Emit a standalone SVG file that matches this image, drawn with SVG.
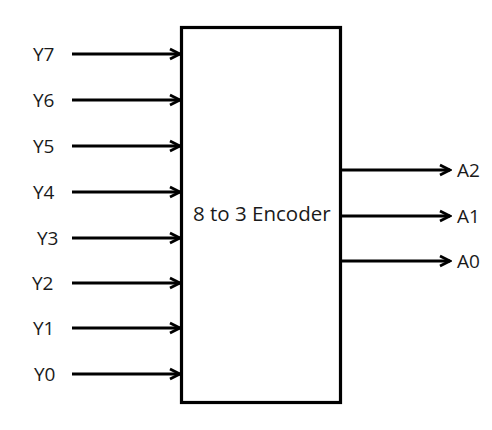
<svg xmlns="http://www.w3.org/2000/svg" width="492" height="430" viewBox="0 0 492 430">
<style>
.w{stroke:#000;stroke-width:3;fill:none}
text{font-family:"Open Sans","Liberation Sans",Arial,sans-serif;font-size:19px;fill:#1a1a1a}
.c{font-size:20.5px}
</style>
<defs>
<marker id="ah" markerUnits="userSpaceOnUse" markerWidth="14" markerHeight="14" viewBox="-12 -7 14 14" refX="0" refY="0" orient="auto">
<path d="M-10,-5 L0,0 L-10,5" stroke="#000" stroke-width="2.8" fill="none"/>
</marker>
</defs>
<rect width="492" height="430" fill="#fff"/>
<g id="encoder">
<rect x="181.5" y="27.5" width="159" height="375" fill="#fff" stroke="#000" stroke-width="3.2"/>
<text class="c" x="193" y="221">8 to 3 Encoder</text>
</g>
<g id="connectors">
<line class="w" x1="72" y1="54" x2="180" y2="54" marker-end="url(#ah)"/>
<line class="w" x1="72" y1="100" x2="180" y2="100" marker-end="url(#ah)"/>
<line class="w" x1="72" y1="146" x2="180" y2="146" marker-end="url(#ah)"/>
<line class="w" x1="72" y1="192" x2="180" y2="192" marker-end="url(#ah)"/>
<line class="w" x1="72" y1="238" x2="180" y2="238" marker-end="url(#ah)"/>
<line class="w" x1="72" y1="283" x2="180" y2="283" marker-end="url(#ah)"/>
<line class="w" x1="72" y1="328" x2="180" y2="328" marker-end="url(#ah)"/>
<line class="w" x1="72" y1="374" x2="180" y2="374" marker-end="url(#ah)"/>
<line class="w" x1="342" y1="170" x2="450" y2="170" marker-end="url(#ah)"/>
<line class="w" x1="342" y1="216" x2="450" y2="216" marker-end="url(#ah)"/>
<line class="w" x1="342" y1="261" x2="450" y2="261" marker-end="url(#ah)"/>
</g>
<g id="in-Y7"><text x="33" y="61">Y7</text></g>
<g id="in-Y6"><text x="33" y="107">Y6</text></g>
<g id="in-Y5"><text x="33" y="153">Y5</text></g>
<g id="in-Y4"><text x="33" y="199">Y4</text></g>
<g id="in-Y3"><text x="37" y="245">Y3</text></g>
<g id="in-Y2"><text x="32" y="290">Y2</text></g>
<g id="in-Y1"><text x="33" y="335">Y1</text></g>
<g id="in-Y0"><text x="34" y="381">Y0</text></g>
<g id="out-A2"><text x="457" y="177">A2</text></g>
<g id="out-A1"><text x="457" y="223">A1</text></g>
<g id="out-A0"><text x="457" y="268">A0</text></g>
</svg>
